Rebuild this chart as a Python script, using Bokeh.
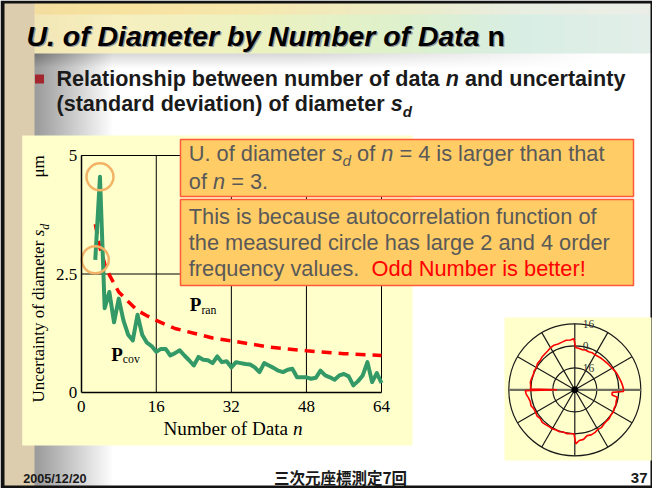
import glob
import math
import os

import numpy as np
from bokeh.core.properties import value
from bokeh.embed import file_html
from bokeh.models import ColumnDataSource, FixedTicker, LinearAxis, Range1d
from bokeh.plotting import figure
from bokeh.resources import INLINE

# ---------------------------------------------------------------- data
# uncertainty of diameter s_d [um] against number of data n
n_cov = list(range(3, 65))
s_cov = [2.80, 4.55, 1.78, 2.12, 1.48, 1.98, 1.52, 1.22, 1.10, 1.64,
         1.22, 1.05, 0.98, 0.86, 0.92, 0.92, 0.78, 0.83, 0.89, 0.78,
         0.68, 0.57, 0.75, 0.69, 0.68, 0.62, 0.76, 0.64, 0.66, 0.53,
         0.64, 0.62, 0.60, 0.59, 0.53, 0.43, 0.62, 0.57, 0.52, 0.46,
         0.43, 0.48, 0.50, 0.32, 0.32, 0.32, 0.29, 0.31, 0.46, 0.36,
         0.32, 0.27, 0.36, 0.39, 0.34, 0.15, 0.24, 0.36, 0.64, 0.22,
         0.41, 0.20]
n_ran = [3, 4, 5, 6, 7, 8, 10, 12, 14, 16, 20, 24, 28, 32, 40, 48, 56, 64]
s_ran = [3.55, 3.05, 2.72, 2.48, 2.30, 2.12, 1.92, 1.73, 1.62, 1.52,
         1.35, 1.25, 1.15, 1.09, 0.96, 0.88, 0.82, 0.78]
highlight_n = [3, 4]

x_ticks = [0, 16, 32, 48, 64]
y_ticks = [0, 2.5, 5]
y_tick_labels = ["0", "2.5", "5"]

# measured roundness profile (polar inset), deviation in um by angle in degrees
prof_deg = [0, 5, 10, 15, 20, 25, 30, 35, 40, 45, 50, 55, 60, 65, 70, 75, 80, 85,
            89, 91, 95, 100, 105, 110, 115, 120, 125, 130, 135, 140, 145, 150,
            155, 160, 165, 170, 175, 179, 180, 181, 185, 190, 195, 200, 205, 210,
            215, 220, 225, 230, 235, 240, 245, 250, 255, 260, 265, 269, 271, 275,
            280, 285, 290, 295, 300, 305, 310, 315, 320, 325, 330, 335, 340, 345,
            350, 352, 356, 358]
prof_um = [3.5, 2.9, 2.2, 1.4, 0.9, 0.2, -0.6, -1.2, -1.6, -1.9, -2.1, -2.4, -2.6,
           -2.2, -2.5, -2.0, -2.3, -1.6, -1.2, 5.2, 4.4, 4.6, 3.9, 3.5, 3.8, 3.3,
           2.4, 2.0, 1.7, 1.0, 1.2, 0.3, 0.6, 0.1, 0.5, 0.8, 0.2, 0.2, -19.0, 4.0,
           3.5, 2.2, 1.5, 1.9, 0.8, 0.9, 1.4, 0.7, 1.5, 1.1, 0.6, 0.8, 0.3, 0.5,
           -0.2, 0.4, 0.1, 0.0, 7.3, 5.0, 4.6, 2.5, 2.9, 2.4, 1.3, 1.6, 0.8, 0.4,
           0.6, 0.0, 0.3, -0.4, -0.2, -0.8, -0.6, -4.6, -4.8, 3.4]
ring_um = [-16, 0, 16]
ring_labels = ["16", "0", "16"]
spoke_deg = [0, 30, 60, 90, 120, 150]

# ---------------------------------------------------------------- canvas
W, H = 652, 488


def cy(y):
    """top-based pixel row -> canvas y (bottom-up)"""
    return H - y


# font metrics, so that mixed-style runs of text can be laid out piece by piece
_paths = {}
for root in ("/usr/share/fonts", "/usr/local/share/fonts",
             os.path.expanduser("~/.fonts"), os.path.expanduser("~/.local/share/fonts")):
    for f in glob.glob(os.path.join(root, "**", "*.tt[fc]"), recursive=True):
        _paths.setdefault(os.path.basename(f), f)

_files = {
    ("Liberation Sans", "normal"): "LiberationSans-Regular.ttf",
    ("Liberation Sans", "bold"): "LiberationSans-Bold.ttf",
    ("Liberation Sans", "italic"): "LiberationSans-Italic.ttf",
    ("Liberation Sans", "bold italic"): "LiberationSans-BoldItalic.ttf",
    ("Liberation Serif", "normal"): "LiberationSerif-Regular.ttf",
    ("Liberation Serif", "bold"): "LiberationSerif-Bold.ttf",
    ("Liberation Serif", "italic"): "LiberationSerif-Italic.ttf",
    ("Liberation Serif", "bold italic"): "LiberationSerif-BoldItalic.ttf",
}
_cache = {}


def width(s, fam, style, size):
    key = (fam, style)
    if key not in _cache:
        try:
            from PIL import ImageFont
            _cache[key] = ImageFont.truetype(_paths[_files[key]], 200)
        except Exception:
            _cache[key] = None
    f = _cache[key]
    if f is None:
        return None
    return f.getlength(s) * size / 200.0


def est(s, fam, style, size):
    w = width(s, fam, style, size)
    return w if w is not None else 0.52 * size * len(s)


def fit(s, fam, style, target, default):
    w = width(s, fam, style, 100.0)
    return default if not w else 100.0 * target / w


# the renderer sets "alphabetic" text a little low; lift it by this share of the font size
LIFT = 0.33

COLS = ("x", "y", "text", "font", "style", "size", "color", "angle", "align", "baseline")
TXT = {"back": {k: [] for k in COLS}, "front": {k: [] for k in COLS}}


def put(layer, x, y, s, fam, style, size, color, angle=0.0, align="left", baseline="alphabetic"):
    if angle == 0:
        y -= LIFT * size
    else:
        x -= LIFT * size
    d = TXT[layer]
    for k, v in zip(COLS, (x, cy(y), s, fam, style, f"{size:.2f}px", color, angle, align, baseline)):
        d[k].append(v)


def rich(layer, x, y, parts, fam, size, color, angle=0.0):
    for part in parts:
        s, style = part[0], part[1]
        k = part[2] if len(part) > 2 else 1.0
        dy = part[3] if len(part) > 3 else 0.0
        col = part[4] if len(part) > 4 else color
        sz = size * k
        lead = len(s) - len(s.lstrip())
        adv = est(s, fam, style, sz)
        pre = est(s[:lead], fam, style, sz) if lead else 0.0
        if angle == 0:
            put(layer, x + pre, y + dy * size, s.strip(), fam, style, sz, col)
            x += adv
        else:
            put(layer, x + dy * size, y - pre, s.strip(), fam, style, sz, col, angle=angle)
            y -= adv
    return x, y


# ---------------------------------------------------------------- background
yy, xx = np.mgrid[0:H, 0:W].astype(float)
shade = 255.0 - 98.0 * np.clip((112.0 - xx) / 76.0, 0.0, 1.0)
sh = 38.0 * np.clip(1.0 - (yy - 53.0) / 14.0, 0.0, 1.0) * (yy >= 53) * np.clip((600.0 - xx) / 300.0, 0.0, 1.0)
R = shade - sh
G = shade - sh
B = shade - sh
bx = [0, 30, 120, 260, 400, 520, 652]
band = yy < 53
R = np.where(band, np.interp(xx, bx, [222, 242, 247, 236, 222, 216, 228]), R)
G = np.where(band, np.interp(xx, bx, [205, 230, 240, 242, 241, 238, 238]), G)
B = np.where(band, np.interp(xx, bx, [168, 182, 192, 192, 205, 228, 234]), B)
top = yy < 14
R = np.where(top, np.interp(xx, bx, [226, 244, 248, 246, 236, 232, 236]), R)
G = np.where(top, np.interp(xx, bx, [208, 222, 226, 232, 236, 238, 238]), G)
B = np.where(top, np.interp(xx, bx, [170, 160, 158, 176, 200, 226, 232]), B)
strip = xx < 34
R = np.where(strip, 219.0, R)
G = np.where(strip, 205.0, G)
B = np.where(strip, 174.0, B)
edge = (xx < 4) | (yy < 3) | (yy >= 485) | (xx >= 650)
R = np.where(edge, 18.0, R)
G = np.where(edge, 18.0, G)
B = np.where(edge, 18.0, B)
rgba = np.dstack([R, G, B, np.full_like(R, 255.0)]).clip(0, 255).astype(np.uint8)
bg_img = np.ascontiguousarray(np.flipud(rgba)).view(np.uint32).reshape(H, W)

# ---------------------------------------------------------------- figure
p = figure(width=W, height=H, x_range=Range1d(0, W), y_range=Range1d(0, H),
           x_axis_type=None, y_axis_type=None, toolbar_location=None,
           output_backend="svg", min_border=0, outline_line_color=None,
           background_fill_color="white", border_fill_color="white")
p.grid.visible = False

# chart scales: n = 0..64 across x 80.7..381, s_d = 0..5 across rows 392..155
X0, X64, YB, YT = 80.7, 381.0, 392.0, 155.0
sx = (X64 - X0) / 64.0
sy = (YB - YT) / 5.0
p.extra_x_ranges["n"] = Range1d(-X0 / sx, (W - X0) / sx)
p.extra_y_ranges["v"] = Range1d(-(H - YB) / sy, YB / sy)

# polar inset scales: centre (574.3, 389.3), outer ring (16 um) at 66 px
CX, CYP, ROUT = 574.3, 389.3, 66.0
OFF = 32.0
pr = ROUT / (ring_um[-1] + OFF)
p.extra_x_ranges["px"] = Range1d(-CX / pr, (W - CX) / pr)
p.extra_y_ranges["py"] = Range1d(-(H - CYP) / pr, CYP / pr)

p.image_rgba(image=[bg_img], x=0, y=0, dw=W, dh=H, level="image")
# pale yellow panels behind chart and inset
p.quad(left=[21.7, 504], right=[412, 651], top=[cy(135), cy(317)], bottom=[cy(445), cy(460)],
       fill_color="#FFFFCC", line_color=None, level="image")
# bullet square
p.quad(left=[34.5], right=[43.5], top=[cy(74)], bottom=[cy(83)], fill_color="#A3262E",
       line_color=None, level="image")

# grid box of the chart
p.segment(x0=x_ticks[1:], y0=[y_ticks[0]] * 4, x1=x_ticks[1:], y1=[y_ticks[-1]] * 4,
          line_color="black", line_width=1, x_range_name="n", y_range_name="v")
p.segment(x0=[x_ticks[0]] * 2, y0=y_ticks[1:], x1=[x_ticks[-1]] * 2, y1=y_ticks[1:],
          line_color="black", line_width=1, x_range_name="n", y_range_name="v")

# curves
p.line(n_ran, s_ran, line_color="#FF0000", line_width=3.5, line_dash="10 7",
       x_range_name="n", y_range_name="v")
p.line(n_cov, s_cov, line_color="#339966", line_width=4, line_join="round",
       x_range_name="n", y_range_name="v")
p.scatter(highlight_n, [s_cov[n_cov.index(k)] for k in highlight_n], marker="circle", size=27,
          fill_color=None, line_color="#F2B366", line_width=2.5,
          x_range_name="n", y_range_name="v")

# axes
xaxis = LinearAxis(x_range_name="n", y_range_name="v", fixed_location=0, bounds=(0, 64),
                   ticker=FixedTicker(ticks=x_ticks))
yaxis = LinearAxis(x_range_name="n", y_range_name="v", fixed_location=0, bounds=(0, 5),
                   ticker=FixedTicker(ticks=y_ticks),
                   major_label_overrides={t: s for t, s in zip(y_ticks, y_tick_labels)})
for ax, standoff in ((xaxis, 8), (yaxis, 4)):
    ax.axis_line_width = 1.5
    ax.axis_line_color = "black"
    ax.major_tick_in = 0
    ax.major_tick_out = 0
    ax.minor_tick_in = 0
    ax.minor_tick_out = 0
    ax.major_label_standoff = standoff
    ax.major_label_text_font = "Liberation Serif"
    ax.major_label_text_font_size = "17px"
    ax.major_label_text_color = "black"
p.add_layout(xaxis, "below")
p.add_layout(yaxis, "left")

# polar inset
ring_r = [v + OFF for v in ring_um]
p.circle(x=[0] * len(ring_r), y=[0] * len(ring_r), radius=ring_r, fill_color=None,
         line_color="#1a1a1a", line_width=1.2, x_range_name="px", y_range_name="py")
rmax = ring_r[-1]
sp = ColumnDataSource(dict(
    x0=[-rmax * math.cos(math.radians(d)) for d in spoke_deg],
    y0=[-rmax * math.sin(math.radians(d)) for d in spoke_deg],
    x1=[rmax * math.cos(math.radians(d)) for d in spoke_deg],
    y1=[rmax * math.sin(math.radians(d)) for d in spoke_deg],
    c=["#6f6f5f" if d == 0 else "#1a1a1a" for d in spoke_deg],
    w=[2.2 if d == 0 else 1.2 for d in spoke_deg],
))
p.segment(x0="x0", y0="y0", x1="x1", y1="y1", line_color="c", line_width="w", source=sp,
          x_range_name="px", y_range_name="py")
px_ = [(v + OFF) * math.cos(math.radians(d)) for d, v in zip(prof_deg, prof_um)]
py_ = [(v + OFF) * math.sin(math.radians(d)) for d, v in zip(prof_deg, prof_um)]
p.line(px_ + px_[:1], py_ + py_[:1], line_color="#FF0000", line_width=1.6,
       x_range_name="px", y_range_name="py")
p.scatter([0], [0], marker="circle", size=6, fill_color="black", line_color="black",
          x_range_name="px", y_range_name="py")
p.text(x=[0] * len(ring_r), y=ring_r, text=ring_labels, x_offset=8, text_baseline="middle",
       text_font=value("Liberation Serif"), text_font_size="11.5px", text_color="#333333",
       x_range_name="px", y_range_name="py")

# ---------------------------------------------------------------- texts
SANS, SERIF = "Liberation Sans", "Liberation Serif"

ts = fit("U. of Diameter by Number of Data", SANS, "bold italic", 453, 26)
title = [("U. of Diameter by Number of Data", "bold italic"), (" n", "bold")]
rich("back", 27.3, 46.3, title, SANS, ts, "#9a9a9a")
rich("back", 26, 45, title, SANS, ts, "#000000")

bs = fit("Relationship between number of data n and uncertainty", SANS, "bold", 569, 17)
rich("back", 56, 85, [("Relationship between number of data ", "bold"), ("n", "bold italic"),
                      (" and uncertainty", "bold")], SANS, bs, "#1a1a1a")
rich("back", 56, 110, [("(standard deviation) of diameter ", "bold"), ("s", "bold italic"),
                       ("d", "bold italic", 0.7, 0.3)], SANS, bs, "#1a1a1a")

ys = fit("Uncertainty of diameter", SERIF, "normal", 162, 17)
rich("back", 44, 402, [("Uncertainty of diameter ", "normal"), ("s", "italic"),
                       ("d", "italic", 0.7, 0.25)], SERIF, ys, "#000000", angle=math.pi / 2)
put("back", 44, 177, "\u03bcm", SERIF, "normal", ys, "#000000", angle=math.pi / 2)
xs = fit("Number of Data n", SERIF, "normal", 139, 17)
rich("back", 163, 434.5, [("Number of Data ", "normal"), ("n", "italic")], SERIF, xs, "#000000")

rich("back", 189.3, 310.7, [("P", "bold"), ("ran", "normal", 0.62, 0.15)], SERIF, 19, "#000000")
rich("back", 110.7, 360, [("P", "bold"), ("cov", "normal", 0.62, 0.15)], SERIF, 19, "#000000")

fs = fit("2005/12/20", SANS, "bold", 63.3, 12)
put("back", 22.7, 482.7, "2005/12/20", SANS, "bold", fs, "#1a1a1a")
put("back", 340, 482, "三次元座標測定7回", "Noto Sans CJK JP", "bold", 15.5, "#1a1a1a", align="center")
put("back", 647, 482.7, "37", SANS, "bold", 15, "#1a1a1a", align="right")

os_ = fit("This is because autocorrelation function of", SANS, "normal", 408, 18)
GRAY = "#595959"
rich("front", 188.3, 160, [("U. of diameter ", "normal"), ("s", "italic"), ("d", "italic", 0.7, 0.25),
                           (" of ", "normal"), ("n", "italic"), (" = 4 is larger than that", "normal")],
     SANS, os_, GRAY)
rich("front", 188.3, 187.7, [("of ", "normal"), ("n", "italic"), (" = 3.", "normal")], SANS, os_, GRAY)
rich("front", 188.3, 222.7, [("This is because autocorrelation function of", "normal")], SANS, os_, GRAY)
rich("front", 188.3, 249.3, [("the measured circle has large 2 and 4 order", "normal")], SANS, os_, GRAY)
rich("front", 188.3, 275.5, [("frequency values.  ", "normal"),
                             ("Odd Number is better!", "normal", 1.0, 0.0, "#FF0000")], SANS, os_, GRAY)


def draw_texts(layer, level):
    src = ColumnDataSource(TXT[layer])
    p.text(x="x", y="y", text="text", text_font="font", text_font_style="style",
           text_font_size="size", text_color="color", angle="angle", text_align="align",
           text_baseline="baseline", source=src, level=level)


draw_texts("back", "glyph")

# callout boxes lie over the chart
p.quad(left=[180, 180], right=[633, 633], top=[cy(139), cy(199)], bottom=[cy(196), cy(285)],
       fill_color="#FFCC66", line_color="#FF5A3A", line_width=1.5, level="overlay")
draw_texts("front", "overlay")

open("out.html", "w").write(file_html(p, INLINE))
